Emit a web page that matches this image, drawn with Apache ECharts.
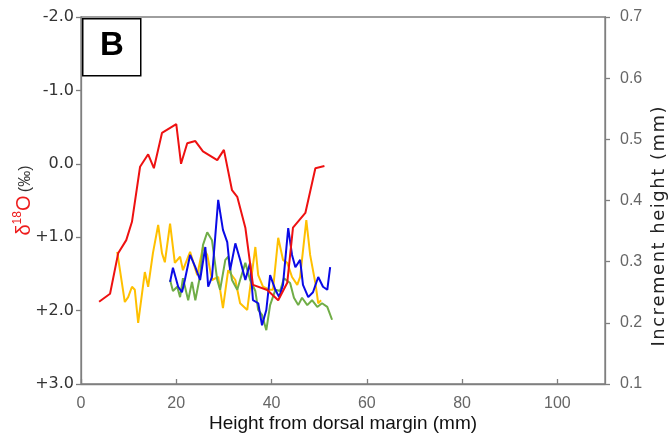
<!DOCTYPE html>
<html>
<head>
<meta charset="utf-8">
<script src="https://cdn.jsdelivr.net/npm/echarts@6/dist/echarts.min.js"></script>
<style>
html,body{margin:0;padding:0;background:#fff;}
#chart{width:670px;height:442px;}
</style>
</head>
<body>
<div id="chart"></div>
<script>
// δ18O (left axis, inverted)
const redX = [3.8, 6.1, 7.8, 9.5, 10.7, 12.4, 14.1, 15.3, 17.0, 20.0, 21.0, 22.3, 24.0, 25.6, 28.6, 30.0, 31.7, 32.8, 34.5, 36.1, 39.1, 41.4, 43.3, 44.5, 47.1, 49.2, 51.1];
const redY = [1.88, 1.77, 1.22, 1.04, 0.79, 0.04, -0.13, 0.06, -0.42, -0.54, 0.00, -0.28, -0.31, -0.17, -0.05, -0.19, 0.36, 0.45, 0.87, 1.65, 1.72, 1.86, 1.62, 0.87, 0.67, 0.06, 0.03];

// Increment height (right axis)
const yellowX = [7.6, 9.2, 9.9, 10.7, 11.3, 12.0, 13.4, 14.1, 15.1, 16.2, 17.0, 17.6, 18.7, 19.7, 20.8, 21.4, 22.9, 24.4, 25.6, 26.5, 27.5, 28.8, 29.8, 30.9, 32.4, 33.4, 34.9, 36.6, 37.2, 38.2, 39.7, 40.3, 41.4, 42.4, 43.3, 44.3, 45.4, 46.0, 47.3, 48.1, 49.2, 49.8, 50.4];
const yellowY = [0.316, 0.234, 0.242, 0.259, 0.254, 0.200, 0.283, 0.259, 0.314, 0.360, 0.314, 0.299, 0.362, 0.298, 0.308, 0.286, 0.316, 0.278, 0.324, 0.311, 0.270, 0.275, 0.224, 0.286, 0.270, 0.232, 0.221, 0.324, 0.278, 0.259, 0.254, 0.254, 0.339, 0.303, 0.298, 0.275, 0.262, 0.275, 0.368, 0.311, 0.265, 0.232, 0.237];

const blueX = [18.7, 19.3, 20.4, 21.2, 21.8, 22.9, 24.0, 25.0, 26.1, 26.7, 27.5, 28.8, 29.8, 30.7, 31.3, 32.4, 33.4, 34.5, 35.5, 36.1, 37.2, 38.0, 38.9, 39.7, 40.8, 41.6, 42.4, 43.5, 44.3, 45.0, 46.0, 46.6, 47.7, 48.7, 49.8, 50.8, 51.7, 52.3];
const blueY = [0.267, 0.290, 0.259, 0.250, 0.270, 0.311, 0.291, 0.270, 0.324, 0.259, 0.275, 0.401, 0.352, 0.332, 0.286, 0.330, 0.303, 0.270, 0.298, 0.237, 0.232, 0.196, 0.221, 0.278, 0.254, 0.242, 0.262, 0.355, 0.311, 0.291, 0.303, 0.262, 0.242, 0.250, 0.275, 0.259, 0.254, 0.291];

const greenX = [18.7, 19.3, 20.2, 20.8, 21.4, 22.5, 23.3, 24.0, 25.0, 25.6, 26.5, 27.5, 28.6, 29.2, 30.3, 30.9, 31.7, 32.8, 33.4, 34.5, 35.5, 36.6, 37.2, 38.0, 38.9, 39.7, 40.8, 41.8, 42.6, 43.9, 44.7, 45.6, 46.4, 47.5, 48.5, 49.6, 50.6, 51.7, 52.7];
const greenY = [0.270, 0.252, 0.259, 0.242, 0.273, 0.237, 0.267, 0.237, 0.277, 0.327, 0.348, 0.335, 0.270, 0.254, 0.303, 0.308, 0.270, 0.254, 0.270, 0.298, 0.270, 0.252, 0.221, 0.213, 0.188, 0.229, 0.254, 0.252, 0.273, 0.265, 0.241, 0.229, 0.241, 0.229, 0.237, 0.226, 0.232, 0.226, 0.205];

const xTicks = {min: 0, max: 110, interval: 20};
const leftTicks = {min: -2, max: 3, interval: 1};
const rightTicks = {min: 0.1, max: 0.7, interval: 0.1};

const rightTitle = 'Increment height (mm)';

function pairs(xs, ys) { return xs.map((x, i) => [x, ys[i]]); }
// letter-spaced rich text: each character becomes a token
function spaced(str) {
  return str.split('').map((c, i) => '{' + (i === 0 ? 'f' : 's') + '|' + c + '}').join('');
}

const chart = echarts.init(document.getElementById('chart'), null, {renderer: 'canvas'});
const axisLineStyle = {color: '#7f7f7f', width: 1.3};
const lineSeries = (name, xs, ys, color, yIdx) => ({
  name, type: 'line', yAxisIndex: yIdx, data: pairs(xs, ys),
  showSymbol: false, symbol: 'none', smooth: false, animation: false,
  lineStyle: {color, width: 2}
});

const titleFont = {color: '#222', fontSize: 18, fontFamily: 'DejaVu Sans', lineHeight: 20};

chart.setOption({
  animation: false,
  backgroundColor: '#fff',
  grid: {left: 81, right: 65, top: 17, bottom: 58, containLabel: false, outerBoundsMode: 'none',
    show: true, borderColor: '#7f7f7f', borderWidth: 1.3},
  xAxis: {
    type: 'value', min: xTicks.min, max: xTicks.max, interval: xTicks.interval,
    splitLine: {show: false},
    axisLine: {show: true, onZero: false, lineStyle: axisLineStyle},
    axisTick: {show: true, inside: true, length: 5, lineStyle: axisLineStyle},
    axisLabel: {color: '#666', fontSize: 16, fontFamily: 'Liberation Sans, Arial', margin: 12, showMaxLabel: false},
    name: 'Height from dorsal margin (mm)', nameLocation: 'middle', nameGap: 30, nameMoveOverlap: false,
    nameTextStyle: {color: '#111', fontSize: 19, fontFamily: 'Liberation Sans, Arial'}
  },
  yAxis: [
    {
      type: 'value', inverse: true, min: leftTicks.min, max: leftTicks.max, interval: leftTicks.interval,
      position: 'left', splitLine: {show: false},
      axisLine: {show: true, onZero: false, lineStyle: axisLineStyle},
      axisTick: {show: true, length: 5, lineStyle: axisLineStyle},
      axisLabel: {
        color: '#333', fontSize: 16, fontFamily: 'DejaVu Sans', margin: 7,
        formatter: v => (v > 0 ? '+' : '') + Number(v).toFixed(1)
      },
      name: '{r|δ}{sup|18}{r|O} {k|(‰)}', nameLocation: 'middle', nameRotate: 90, nameGap: 47,
      nameMoveOverlap: false,
      nameTextStyle: {
        rich: {
          r: {color: '#ee1c1c', fontSize: 20, fontFamily: 'Liberation Sans, Arial', verticalAlign: 'bottom', lineHeight: 22},
          sup: {color: '#ee1c1c', fontSize: 12, fontFamily: 'Liberation Sans, Arial', verticalAlign: 'top', lineHeight: 22},
          k: {color: '#333', fontSize: 16, fontFamily: 'Liberation Sans, Arial', verticalAlign: 'bottom', lineHeight: 22}
        }
      }
    },
    {
      type: 'value', min: rightTicks.min, max: rightTicks.max, interval: rightTicks.interval,
      position: 'right', splitLine: {show: false},
      axisLine: {show: true, onZero: false, lineStyle: axisLineStyle},
      axisTick: {show: true, length: 5, lineStyle: axisLineStyle},
      axisLabel: {color: '#666', fontSize: 16, fontFamily: 'Liberation Sans, Arial', margin: 15,
        formatter: v => Number(v).toFixed(1)},
      name: spaced(rightTitle), nameLocation: 'middle', nameRotate: 90, nameGap: 44,
      nameMoveOverlap: false,
      nameTextStyle: {
        padding: [0, 52, 0, 0],
        rich: {
          f: Object.assign({}, titleFont),
          s: Object.assign({padding: [0, 0, 0, 1.5]}, titleFont)
        }
      }
    }
  ],
  graphic: [
    {type: 'rect', left: 82, top: 18, shape: {width: 58, height: 57}, z: 100,
      style: {fill: '#fff', stroke: '#000', lineWidth: 1.5}},
    {type: 'text', left: 100, top: 29, z: 101,
      style: {text: 'B', fill: '#000', font: 'bold 33px Liberation Sans, Arial'}}
  ],
  series: [
    lineSeries('Yellow', yellowX, yellowY, '#ffc000', 1),
    lineSeries('Green', greenX, greenY, '#70ad47', 1),
    lineSeries('Blue', blueX, blueY, '#0a0ae6', 1),
    lineSeries('δ18O', redX, redY, '#ee1111', 0)
  ]
});
</script>
</body>
</html>
